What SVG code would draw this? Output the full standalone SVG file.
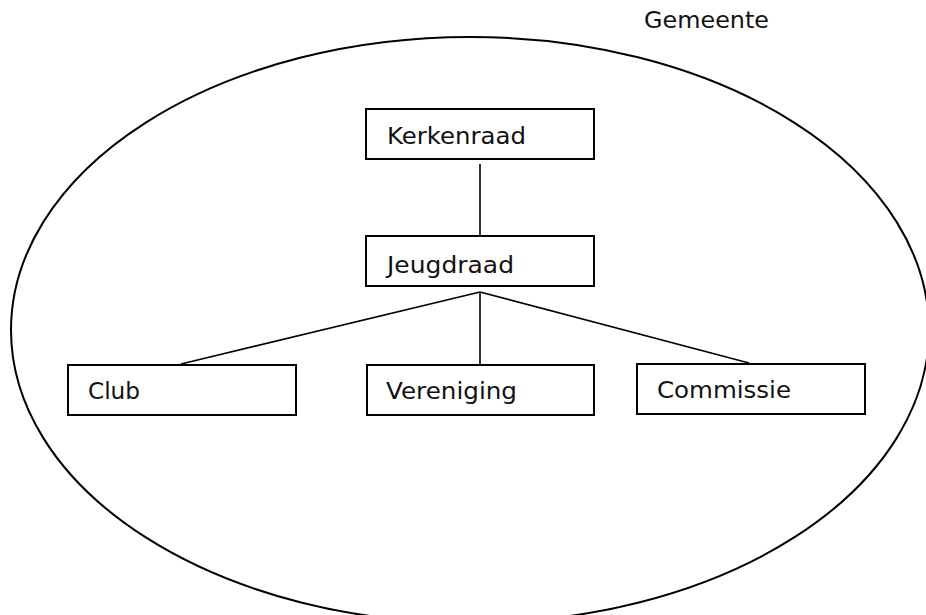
<svg xmlns="http://www.w3.org/2000/svg" width="926" height="615" viewBox="0 0 926 615">
<style>
.box{fill:#fff;stroke:#000;stroke-width:2}
.lbl{font-family:"DejaVu Sans","Liberation Sans",sans-serif;font-size:22.5px;fill:#111}
.con{stroke:#000;stroke-width:1.6;fill:none}
</style>
<rect width="926" height="615" fill="#fff"/>
<g id="gemeente">
<ellipse cx="470" cy="330" rx="459" ry="293" fill="none" stroke="#000" stroke-width="2"/>
<text class="lbl" x="644" y="28" textLength="125" lengthAdjust="spacingAndGlyphs">Gemeente</text>
</g>
<g id="connectors">
<line class="con" x1="480" y1="164" x2="480" y2="236"/>
<line class="con" x1="480" y1="292" x2="181" y2="364"/>
<line class="con" x1="480" y1="292" x2="480" y2="364"/>
<line class="con" x1="480" y1="292" x2="749" y2="363"/>
</g>
<g id="kerkenraad">
<rect class="box" x="366" y="109" width="228" height="50"/>
<text class="lbl" x="387" y="144" textLength="139" lengthAdjust="spacingAndGlyphs">Kerkenraad</text>
</g>
<g id="jeugdraad">
<rect class="box" x="366" y="236" width="228" height="50"/>
<text class="lbl" x="387" y="273" textLength="127" lengthAdjust="spacingAndGlyphs">Jeugdraad</text>
</g>
<g id="club">
<rect class="box" x="68" y="365" width="228" height="50"/>
<text class="lbl" x="88" y="399" textLength="52" lengthAdjust="spacingAndGlyphs">Club</text>
</g>
<g id="vereniging">
<rect class="box" x="367" y="365" width="227" height="50"/>
<text class="lbl" x="386" y="399" textLength="131" lengthAdjust="spacingAndGlyphs">Vereniging</text>
</g>
<g id="commissie">
<rect class="box" x="637" y="364" width="228" height="50"/>
<text class="lbl" x="657" y="398" textLength="134" lengthAdjust="spacingAndGlyphs">Commissie</text>
</g>
</svg>
